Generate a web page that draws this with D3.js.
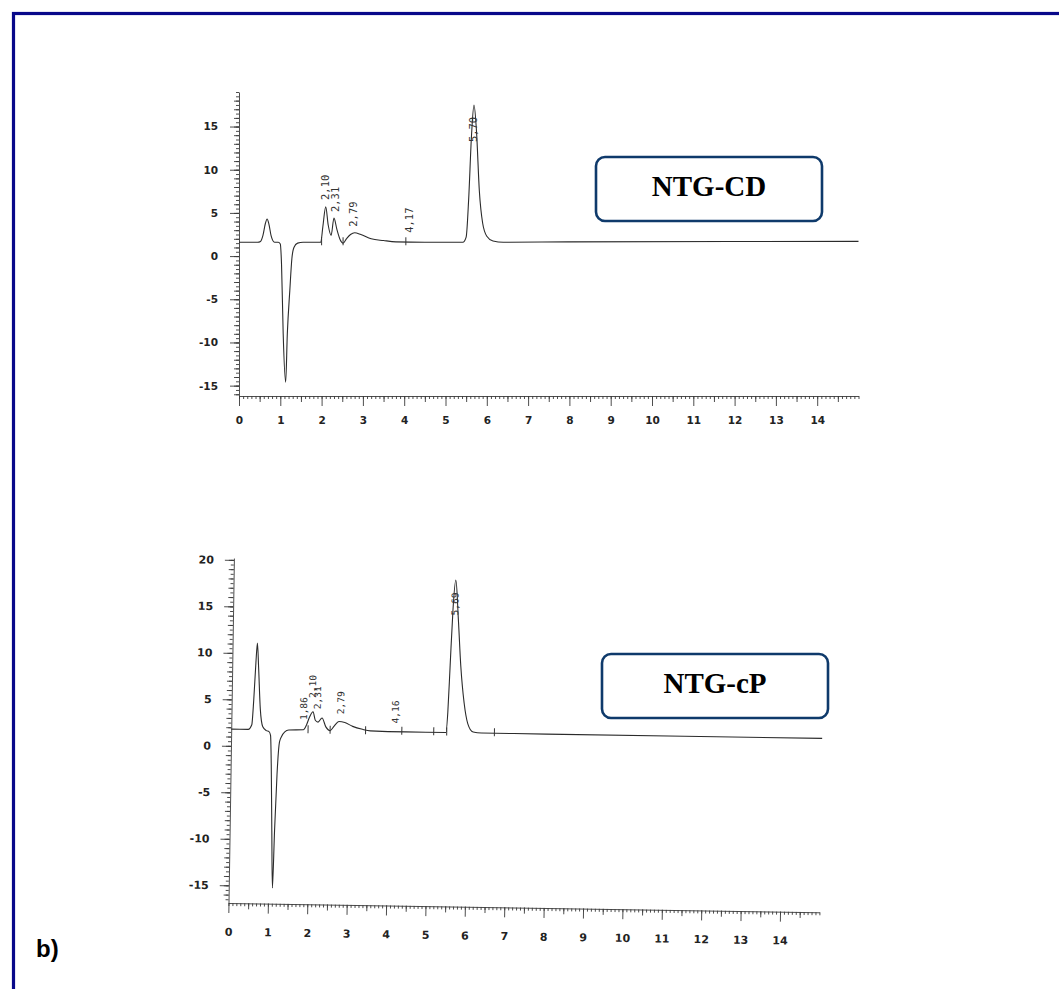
<!DOCTYPE html>
<html>
<head>
<meta charset="utf-8">
<script src="https://cdn.jsdelivr.net/npm/d3@7"></script>
<style>
body{margin:0;background:#fff;}
svg{display:block;}
.ylab text,.xlab text{font-family:"DejaVu Sans",sans-serif;font-weight:bold;fill:#222;}
.peak{font-family:"DejaVu Sans Mono",monospace;fill:#333;}
</style>
</head>
<body>
<svg width="1059" height="989"></svg>
<script>
// NTG-CD chromatogram: retention time (min) / signal
let cdTime   = [0, 0.45, 0.52, 0.58, 0.64, 0.68, 0.72, 0.78, 0.86, 0.95, 1.0, 1.03, 1.07, 1.13, 1.17, 1.23, 1.28, 1.33, 1.42, 1.55,
                1.98, 2.03, 2.10, 2.16, 2.23, 2.30, 2.37, 2.45, 2.52, 2.6, 2.7, 2.8, 2.95, 3.2, 3.5, 3.8, 4.5,
                5.42, 5.5, 5.56, 5.63, 5.69, 5.75, 5.82, 5.9, 6.0, 6.15, 6.4, 8, 15];
let cdSignal = [1.6, 1.6, 1.7, 2.4, 3.8, 4.3, 3.8, 2.3, 1.6, 1.6, 1.4, -1, -9, -14.6, -9, -4, -0.3, 1.0, 1.5, 1.6,
                1.6, 3.4, 5.7, 3.6, 2.4, 4.4, 3.1, 1.9, 1.5, 2.0, 2.5, 2.7, 2.5, 2.0, 1.8, 1.65, 1.6,
                1.6, 2.2, 6.5, 14, 17.5, 14.5, 7.5, 3.8, 2.3, 1.75, 1.6, 1.65, 1.7];
let cdLabels = ["2,10", "2,31", "2,79", "4,17", "5,70"];
let cdLabelTime  = [2.10, 2.35, 2.78, 4.14, 5.69];
let cdLabelLevel = [6.5, 5.1, 3.4, 2.7, 13.2];
let cdMarks = [2.0, 2.52, 4.04];

// NTG-cP chromatogram
let cpTime   = [0, 0.43, 0.52, 0.56, 0.60, 0.63, 0.67, 0.73, 0.80, 0.89, 0.96, 1.0, 1.03, 1.07, 1.11, 1.14, 1.18, 1.23, 1.28, 1.36, 1.46,
                1.83, 1.91, 1.98, 2.07, 2.13, 2.20, 2.30, 2.40, 2.51, 2.61, 2.73, 2.88, 3.08, 3.33, 3.53, 4.43,
                5.45, 5.49, 5.53, 5.58, 5.64, 5.72, 5.80, 5.90, 6.0, 6.14, 6.35, 8, 15];
let cpSignal = [1.8, 1.8, 2.3, 5.0, 9.0, 11.1, 8.5, 4.0, 2.1, 1.7, 1.6, 1.2, -2, -9, -15.2, -9, -3, 0.5, 1.1, 1.6, 1.8,
                1.85, 2.4, 3.2, 3.8, 2.9, 2.7, 3.15, 2.2, 1.8, 2.3, 2.8, 2.7, 2.3, 2.0, 1.85, 1.8,
                1.8, 4.0, 9.0, 15, 18.2, 14, 9.0, 5.0, 2.8, 1.9, 1.8, 1.8, 1.8];
let cpLabels = ["1,86", "2,10", "2,31", "2,79", "4,16", "5,69"];
let cpLabelTime  = [1.84, 2.06, 2.19, 2.78, 4.17, 5.64];
let cpLabelLevel = [2.9, 5.3, 4.1, 3.6, 2.7, 14.4];
let cpMarks = [1.95, 2.51, 3.41, 4.33, 5.14, 5.47, 6.68];

let xTicks = d3.range(0, 15);
let cdYTicks = [-15, -10, -5, 0, 5, 10, 15];
let cpYTicks = [-15, -10, -5, 0, 5, 10, 15, 20];

const svg = d3.select("svg");

// outer frame
svg.append("rect")
    .attr("x", 13.5).attr("y", 13.5)
    .attr("width", 1100).attr("height", 1100)
    .attr("fill", "none")
    .attr("stroke", "#08088a")
    .attr("stroke-width", 3.2);

function chromatogram(g, o){
    let x = d3.scaleLinear().domain([0, 15]).range([o.x0, o.x1]);
    let y = d3.scaleLinear().domain(o.yDom).range([o.yBot, o.yTop]);

    // minor x ticks
    g.append("g").attr("transform", `translate(0,${o.yBot})`)
        .call(d3.axisBottom(x).tickValues(d3.range(0, 151).map(i => i/10)).tickSize(3).tickFormat(""))
        .call(s => s.select(".domain").remove());
    g.append("g").attr("transform", `translate(0,${o.yBot})`)
        .call(d3.axisBottom(x).tickValues(d3.range(0, 15).map(i => i + 0.5)).tickSize(6).tickFormat(""))
        .call(s => s.select(".domain").remove());
    g.append("g").attr("class", "xlab").attr("transform", `translate(0,${o.yBot})`)
        .call(d3.axisBottom(x).tickValues(xTicks).tickSize(10).tickSizeOuter(0).tickPadding(o.xpad).tickFormat(d => d))
        .call(s => s.selectAll("text").style("font-size", o.fs + "px"));

    // y axis
    let yMin = Math.ceil(o.yDom[0]*2)/2;
    g.append("g").attr("transform", `translate(${o.x0},0)`)
        .call(d3.axisLeft(y).tickValues(d3.range(yMin*2, o.yDom[1]*2 + 0.01).map(i => i/2)).tickSize(3).tickFormat(""))
        .call(s => s.select(".domain").remove());
    g.append("g").attr("transform", `translate(${o.x0},0)`)
        .call(d3.axisLeft(y).tickValues(d3.range(Math.ceil(o.yDom[0]), o.yDom[1])).tickSize(5).tickFormat(""))
        .call(s => s.select(".domain").remove());
    g.append("g").attr("class", "ylab").attr("transform", `translate(${o.x0},0)`)
        .call(d3.axisLeft(y).tickValues(o.yTicks).tickSize(9).tickSizeOuter(0).tickPadding(o.pad).tickFormat(d => d))
        .call(s => s.selectAll("text").style("font-size", o.fs + "px"));

    g.selectAll(".tick line, .domain").attr("stroke", "#3a3a3a").attr("stroke-width", 0.9);

    // trace
    let pts = o.t.map((d, i) => [d, o.v[i]]);
    g.append("path")
        .datum(pts)
        .attr("fill", "none")
        .attr("stroke", "#2b2b2b")
        .attr("stroke-width", 1.1)
        .attr("d", d3.line().x(d => x(d[0])).y(d => y(d[1])).curve(d3.curveMonotoneX));

    // integration marks
    g.selectAll("line.mark")
        .data(o.marks)
        .enter()
        .append("line")
            .attr("x1", d => x(d)).attr("x2", d => x(d))
            .attr("y1", y(o.base) - 5).attr("y2", y(o.base) + 3)
            .attr("stroke", "#333").attr("stroke-width", 1);

    // retention time labels
    g.selectAll("text.peak")
        .data(o.labels)
        .enter()
        .append("text")
            .attr("class", "peak")
            .attr("transform", (d, i) => `translate(${x(o.lt[i]) + 3},${y(o.ll[i])}) rotate(-90)`)
            .style("font-size", o.pfs + "px")
            .text(d => d);
}

chromatogram(svg.append("g"), {
    x0: 239, x1: 858.5, yDom: [-16.2, 19], yBot: 396, yTop: 92,
    yTicks: cdYTicks, fs: 10.5, pfs: 10.5, pad: 12, xpad: 11,
    t: cdTime, v: cdSignal, marks: cdMarks, base: 1.6,
    labels: cdLabels, lt: cdLabelTime, ll: cdLabelLevel
});

chromatogram(svg.append("g").attr("transform", "rotate(0.9,228.5,903)"), {
    x0: 228.5, x1: 819.5, yDom: [-16.9, 20.2], yBot: 903, yTop: 558,
    yTicks: cpYTicks, fs: 11, pfs: 9.5, pad: 11, xpad: 15,
    t: cpTime, v: cpSignal, marks: cpMarks, base: 1.8,
    labels: cpLabels, lt: cpLabelTime, ll: cpLabelLevel
});

// sample boxes
let boxes = [{name: "NTG-CD", x: 596, y: 157}, {name: "NTG-cP", x: 602, y: 654}];
svg.selectAll("g.box")
    .data(boxes)
    .enter()
    .append("g")
        .attr("transform", d => `translate(${d.x},${d.y})`)
        .each(function(d){
            let b = d3.select(this);
            b.append("rect")
                .attr("width", 226).attr("height", 64).attr("rx", 9)
                .attr("fill", "#fff").attr("stroke", "#0f3a6b").attr("stroke-width", 2.6);
            b.append("text")
                .attr("x", 113).attr("y", 39)
                .attr("text-anchor", "middle")
                .style("font-family", "'Liberation Serif','Times New Roman',serif")
                .style("font-weight", "bold")
                .style("font-size", "29px")
                .text(d.name);
        });

svg.append("text")
    .attr("x", 36).attr("y", 957)
    .style("font-family", "'Liberation Sans',Arial,sans-serif")
    .style("font-weight", "bold")
    .style("font-size", "24px")
    .text("b)");
</script>
</body>
</html>
